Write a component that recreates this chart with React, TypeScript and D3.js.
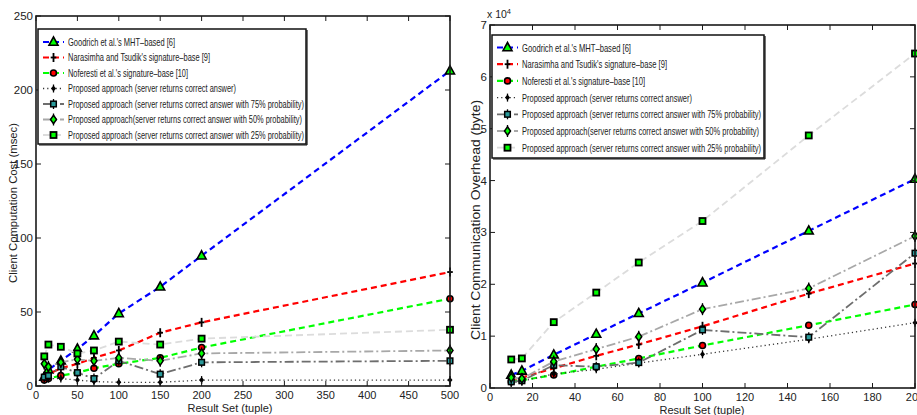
import React from "react";
import * as d3 from "d3";

const X_LEFT = [10, 15, 30, 50, 70, 100, 150, 200, 500];
const X_RIGHT = [10, 15, 30, 50, 70, 100, 150, 200];

const SERIES_NAMES = [
  "Goodrich et al.'s MHT\u2013based [6]",
  "Narasimha and Tsudik's signature\u2013base [9]",
  "Noferesti et al.'s signature\u2013base [10]",
  "Proposed approach (server returns correct answer)",
  "Proposed approach (server returns correct answer with 75% probability)",
  "Proposed approach(server returns correct answer with 50% probability)",
  "Proposed approach (server returns correct answer with 25% probability)",
];

// Left: client computation cost (msec)
const goodrichL = [6, 11, 17, 25, 34, 49, 67, 88, 213];
const narasimhaL = [6, 8, 12, 15, 19, 24, 36, 43, 77];
const noferestiL = [4, 5, 7, 9, 12, 15, 19, 26, 59];
const proposedL = [5, 5, 5, 4, 3, 2.5, 2.5, 4, 4];
const p75L = [6, 7, 13, 9, 5, 17, 8, 16, 17];
const p50L = [15, 13, 16, 18, 17, 19, 17, 22, 24];
const p25L = [20, 28, 26.5, 22, 24, 30, 28, 32, 38];

// Right: client communication overhead (byte)
const goodrichR = [2500, 3300, 6400, 10400, 14400, 20300, 30300, 40300];
const narasimhaR = [1700, 2000, 3800, 6200, 8400, 11900, 18200, 24000];
const noferestiR = [1200, 1500, 2500, 4100, 5700, 8200, 12100, 16100];
const proposedR = [1000, 1300, 2700, 3600, 4800, 6500, 9400, 12600];
const p75R = [1200, 1400, 4400, 4100, 4900, 11200, 9800, 26000];
const p50R = [2000, 1800, 5100, 7500, 9900, 15200, 19200, 29300];
const p25R = [5500, 5700, 12700, 18400, 24200, 32200, 48700, 64500];

const X_TICKS_LEFT = [0, 50, 100, 150, 200, 250, 300, 350, 400, 450, 500];
const Y_TICKS_LEFT = [0, 50, 100, 150, 200, 250];
const X_TICKS_RIGHT = [0, 20, 40, 60, 80, 100, 120, 140, 160, 180, 200];
const Y_TICKS_RIGHT = [0, 10000, 20000, 30000, 40000, 50000, 60000, 70000];

type Style = { color: string; dash: string; width: number; marker: string };
const STYLES: Style[] = [
  { color: "#0000ff", dash: "6,4", width: 2.2, marker: "tri" },
  { color: "#ff0000", dash: "6,4", width: 2.2, marker: "plus" },
  { color: "#00ff00", dash: "6,4", width: 2.2, marker: "circle" },
  { color: "#333333", dash: "1.2,3", width: 1.3, marker: "dot" },
  { color: "#6e6e6e", dash: "9,3,2,3", width: 1.8, marker: "sqstar" },
  { color: "#a8a8a8", dash: "9,3,2,3", width: 1.8, marker: "diamond" },
  { color: "#dcdcdc", dash: "7,4", width: 1.8, marker: "square" },
];

const FONT = "'Liberation Sans Narrow', 'Arial Narrow', 'Liberation Sans', Arial, sans-serif";
const FONT_WIDE = "'Liberation Sans', Arial, sans-serif";

function Marker({ type, x, y }: { type: string; x: number; y: number }) {
  const k = "#000";
  switch (type) {
    case "tri":
      return (
        <path
          d={`M${x},${y - 5}L${x + 4.5},${y + 3.2}L${x - 4.5},${y + 3.2}Z`}
          fill="#00ff00"
          stroke={k}
          strokeWidth={1.6}
        />
      );
    case "plus":
      return (
        <g stroke={k} strokeWidth={1.8}>
          <line x1={x - 2.8} x2={x + 2.8} y1={y} y2={y} />
          <line x1={x} x2={x} y1={y - 4.5} y2={y + 4.5} />
        </g>
      );
    case "circle":
      return <circle cx={x} cy={y} r={3} fill="#ff0000" stroke={k} strokeWidth={1.6} />;
    case "dot":
      return (
        <g>
          <line x1={x} x2={x} y1={y - 4} y2={y + 4} stroke={k} strokeWidth={1.3} />
          <path d={`M${x},${y - 3}L${x + 2.5},${y}L${x},${y + 3}L${x - 2.5},${y}Z`} fill={k} />
        </g>
      );
    case "sqstar":
      return (
        <g>
          <line x1={x} x2={x} y1={y - 5} y2={y + 5} stroke={k} strokeWidth={1.3} />
          <rect x={x - 2.8} y={y - 2.8} width={5.6} height={5.6} fill="#2a9a9a" stroke={k} strokeWidth={1.5} />
        </g>
      );
    case "diamond":
      return (
        <g>
          <line x1={x} x2={x} y1={y - 6} y2={y + 6} stroke={k} strokeWidth={1.3} />
          <path
            d={`M${x},${y - 4.3}L${x + 3},${y}L${x},${y + 4.3}L${x - 3},${y}Z`}
            fill="#00ff00"
            stroke={k}
            strokeWidth={1.5}
          />
        </g>
      );
    case "square":
      return <rect x={x - 3} y={y - 3} width={6} height={6} fill="#00ff00" stroke={k} strokeWidth={1.8} />;
    default:
      return null;
  }
}

type PanelProps = {
  xs: number[];
  series: number[][];
  xDomain: [number, number];
  yDomain: [number, number];
  xRange: [number, number];
  yRange: [number, number];
  xTicks: number[];
  yTicks: number[];
  yFmt: (v: number) => string;
  xLabel: string;
  xLabelPos: [number, number];
  yLabel: string;
  yLabelPos: [number, number];
  yLabelSize: number;
  yLabelLen: number;
  legend: { x: number; y: number; w: number; h: number; rowY: number; step: number; fs: number; widths: number[] };
};

function Panel(p: PanelProps) {
  const x = d3.scaleLinear().domain(p.xDomain).range(p.xRange);
  const y = d3.scaleLinear().domain(p.yDomain).range(p.yRange);
  const [x0, x1] = p.xRange;
  const [y0, y1] = p.yRange; // y0 bottom, y1 top
  const line = d3
    .line<[number, number]>()
    .x((d) => x(d[0]))
    .y((d) => y(d[1]));
  const L = p.legend;
  return (
    <g>
      {p.series.map((vals, i) => {
        const pts = p.xs.map((xv, j) => [xv, vals[j]] as [number, number]);
        const s = STYLES[i];
        return (
          <g key={i}>
            <path d={line(pts) || ""} fill="none" stroke={s.color} strokeWidth={s.width} strokeDasharray={s.dash} />
            {pts.map((d, j) => (
              <Marker key={j} type={s.marker} x={x(d[0])} y={y(d[1])} />
            ))}
          </g>
        );
      })}
      <rect x={x0} y={y1} width={x1 - x0} height={y0 - y1} fill="none" stroke="#1a1a1a" strokeWidth={1.6} />
      {p.xTicks.map((t) => (
        <g key={"xt" + t}>
          <line x1={x(t)} x2={x(t)} y1={y0} y2={y0 - 5} stroke="#1a1a1a" strokeWidth={1} />
          <line x1={x(t)} x2={x(t)} y1={y1} y2={y1 + 5} stroke="#1a1a1a" strokeWidth={1} />
          <text x={x(t)} y={y0 + 13} textAnchor="middle" fontFamily={FONT} fontSize={11} fill="#222">
            {t}
          </text>
        </g>
      ))}
      {p.yTicks.map((t) => (
        <g key={"yt" + t}>
          <line x1={x0} x2={x0 + 5} y1={y(t)} y2={y(t)} stroke="#1a1a1a" strokeWidth={1} />
          <line x1={x1} x2={x1 - 5} y1={y(t)} y2={y(t)} stroke="#1a1a1a" strokeWidth={1} />
          <text x={x0 - 3} y={y(t) + 4} textAnchor="end" fontFamily={FONT} fontSize={11.5} fill="#222">
            {p.yFmt(t)}
          </text>
        </g>
      ))}
      <text x={p.xLabelPos[0]} y={p.xLabelPos[1]} textAnchor="middle" fontFamily={FONT} fontSize={11} fill="#222">
        {p.xLabel}
      </text>
      <text
        transform={`translate(${p.yLabelPos[0]},${p.yLabelPos[1]}) rotate(-90)`}
        textAnchor="middle"
        fontFamily={FONT_WIDE}
        fontSize={p.yLabelSize}
        fill="#222"
        textLength={p.yLabelLen}
        lengthAdjust="spacingAndGlyphs"
      >
        {p.yLabel}
      </text>
      <rect x={L.x} y={L.y} width={L.w} height={L.h} fill="#fff" stroke="#111" strokeWidth={1.5} />
      <line x1={L.x + 1} x2={L.x + L.w + 1} y1={L.y + L.h + 1} y2={L.y + L.h + 1} stroke="#111" strokeWidth={1.2} />
      <line x1={L.x + L.w + 1} x2={L.x + L.w + 1} y1={L.y + 1} y2={L.y + L.h + 1} stroke="#111" strokeWidth={1.2} />
      {SERIES_NAMES.map((name, i) => {
        const s = STYLES[i];
        const ry = L.rowY + i * L.step;
        const lx0 = L.x + 5;
        const lx1 = L.x + 26;
        return (
          <g key={"lg" + i}>
            <line x1={lx0} x2={lx1} y1={ry} y2={ry} stroke={s.color} strokeWidth={s.width} strokeDasharray={s.dash} />
            <Marker type={s.marker} x={(lx0 + lx1) / 2} y={ry} />
            <text
              x={L.x + 30}
              y={ry + L.fs * 0.36}
              fontFamily={FONT}
              fontSize={L.fs}
              fill="#222"
              textLength={L.widths[i]}
              lengthAdjust="spacingAndGlyphs"
            >
              {name}
            </text>
          </g>
        );
      })}
    </g>
  );
}

export default function App() {
  return (
    <svg
      width={917}
      height={415}
      style={{ position: "absolute", left: 0, top: 0, background: "#fff" }}
      xmlns="http://www.w3.org/2000/svg"
    >
      <rect x={0} y={0} width={917} height={415} fill="#fff" />
      <Panel
        xs={X_LEFT}
        series={[goodrichL, narasimhaL, noferestiL, proposedL, p75L, p50L, p25L]}
        xDomain={[0, 500]}
        yDomain={[0, 250]}
        xRange={[36, 450]}
        yRange={[386, 16]}
        xTicks={X_TICKS_LEFT}
        yTicks={Y_TICKS_LEFT}
        yFmt={(v) => String(v)}
        xLabel="Result Set (tuple)"
        xLabelPos={[230, 412]}
        yLabel="Client Computation Cost (msec)"
        yLabelPos={[17, 203]}
        yLabelSize={11}
        yLabelLen={160}
        legend={{
          x: 38,
          y: 29,
          w: 268,
          h: 115,
          rowY: 42,
          step: 15.5,
          fs: 10.5,
          widths: [107, 142, 120, 168, 236, 234, 236],
        }}
      />
      <Panel
        xs={X_RIGHT}
        series={[goodrichR, narasimhaR, noferestiR, proposedR, p75R, p50R, p25R]}
        xDomain={[0, 200]}
        yDomain={[0, 70000]}
        xRange={[490, 915]}
        yRange={[388, 25]}
        xTicks={X_TICKS_RIGHT}
        yTicks={Y_TICKS_RIGHT}
        yFmt={(v) => String(v / 10000)}
        xLabel="Result Set (tuple)"
        xLabelPos={[702, 413.5]}
        yLabel="Client Communication Overhead (byte)"
        yLabelPos={[480, 220]}
        yLabelSize={13}
        yLabelLen={240}
        legend={{
          x: 492,
          y: 35,
          w: 272,
          h: 123,
          rowY: 47.5,
          step: 16.7,
          fs: 11.5,
          widths: [109, 145, 123, 170, 239, 237, 239],
        }}
      />
      <text x={487} y={18} fontFamily={FONT} fontSize={10.5} fill="#222">
        x 10
        <tspan dy={-4} fontSize={7.5}>
          4
        </tspan>
      </text>
    </svg>
  );
}
